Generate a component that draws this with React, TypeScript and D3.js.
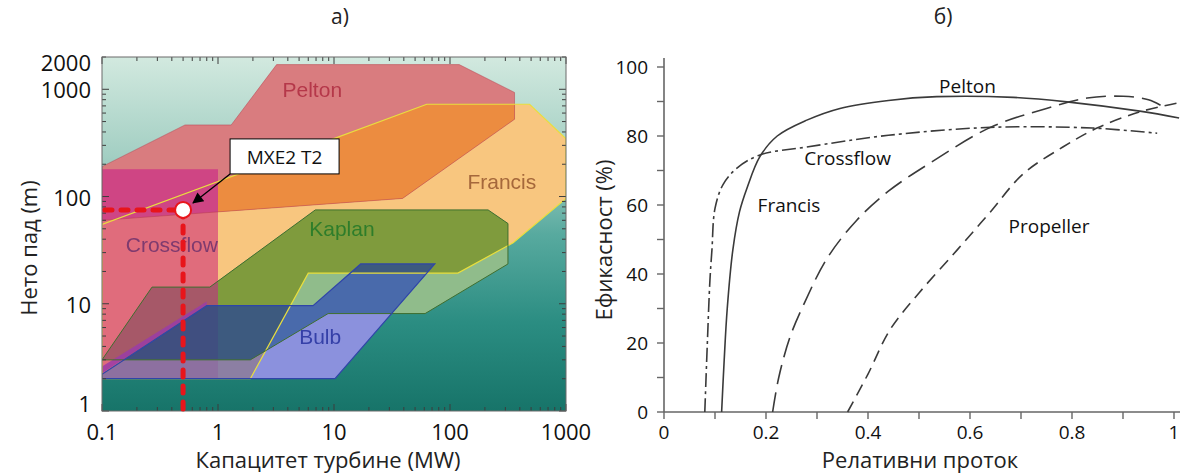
import React from 'react';
import * as d3 from 'd3';

const W = 1180;
const H = 474;

type Pt = [number, number];

// Panel а): turbine application ranges as [capacity MW, net head m]
const peltonRange: Pt[] = [[0.1, 60], [0.1, 190], [0.52, 465], [1.3, 465], [3.2, 1700], [120, 1700], [360, 935], [360, 525], [39, 96]];
const francisRange: Pt[] = [[0.1, 2], [0.1, 55], [63, 725], [485, 725], [1000, 345], [1000, 96], [350, 37], [117, 19.3], [6, 19.3], [1.9, 2]];
const kaplanRange: Pt[] = [[0.1, 3.0], [0.27, 14.3], [0.85, 14.3], [6.9, 75], [213, 75], [316, 56], [316, 23.5], [61, 8.1], [8.9, 8.1], [1.9, 3.0]];
const crossflowRange: Pt[] = [[0.1, 2], [0.1, 180], [1, 180], [1, 2]];
const bulbRange: Pt[] = [[0.1, 2.0], [10.2, 2.0], [74, 23.5], [17, 23.5], [6.6, 9.6], [0.8, 9.6], [0.1, 2.2]];
const bulbEdge: Pt[] = [[0.1, 2.25], [0.8, 9.8], [0.8, 10.5], [0.1, 2.6]];

const regionLabels = ['Pelton', 'Francis', 'Kaplan', 'Crossflow', 'Bulb'];
const regionLabelAt: Pt[] = [[6.5, 1000], [280, 138], [11.7, 50], [0.4, 36], [7.6, 5.0]];
const regionLabelColors = ['#b5384a', '#a5673a', '#2f7d2c', '#7e3a6e', '#3540a8'];

const markerCapacity = 0.5;
const markerHead = 75;
const markerName = 'MXE2 T2';

const capacityTicks = [0.1, 1, 10, 100, 1000];
const headTicks = [1, 10, 100, 1000, 2000];

// Panel б): efficiency curves as [relative flow, efficiency %]
const peltonEff: Pt[] = [[0.113, 0], [0.118, 15], [0.124, 30], [0.135, 47], [0.148, 58], [0.163, 65], [0.188, 74], [0.222, 80], [0.28, 84.6], [0.345, 88], [0.44, 90.3], [0.535, 91.4], [0.685, 91.2], [0.79, 89.9], [0.933, 87.2], [1.01, 85.2]];
const crossflowEff: Pt[] = [[0.08, 0], [0.085, 20], [0.09, 38], [0.094, 47], [0.1, 59], [0.116, 66], [0.143, 70.7], [0.188, 74.5], [0.28, 76.8], [0.44, 80.2], [0.64, 82.5], [0.84, 82.3], [0.967, 80.8]];
const francisEff: Pt[] = [[0.213, 0], [0.225, 10], [0.247, 21.7], [0.275, 31.5], [0.32, 44.6], [0.378, 55.6], [0.44, 64], [0.522, 72.2], [0.64, 82.5], [0.75, 88], [0.83, 91], [0.9, 91.5], [0.95, 90.5], [0.985, 88]];
const propellerEff: Pt[] = [[0.36, 0], [0.4, 11], [0.443, 23.8], [0.5, 34.5], [0.575, 47], [0.64, 58], [0.704, 69], [0.782, 76.8], [0.849, 82.3], [0.933, 87], [1.005, 89.5]];

const curveNames = ['Pelton', 'Crossflow', 'Francis', 'Propeller'];
const curveLabelAt: Pt[] = [[0.595, 94.5], [0.36, 73.5], [0.245, 60], [0.755, 54]];

const flowTicks = [0, 0.2, 0.4, 0.6, 0.8, 1];
const flowMinorTicks = d3.range(0, 1.001, 0.1);
const effTicks = [0, 20, 40, 60, 80, 100];
const effMinorTicks = d3.range(0, 101, 10);

// scales
const xL = d3.scaleLog().domain([0.1, 1000]).range([102, 566]);
const yL = d3.scaleLog().domain([1, 2000]).range([411, 57]);
const xR = d3.scaleLinear().domain([0, 1]).range([664, 1174]);
const yR = d3.scaleLinear().domain([0, 100]).range([412, 67]);

const polyLine = d3.line<Pt>().x(d => xL(d[0])).y(d => yL(d[1]));
const poly = (pts: Pt[]) => (polyLine(pts) || '') + 'Z';
const effLine = d3.line<Pt>().x(d => xR(d[0])).y(d => yR(d[1])).curve(d3.curveCatmullRom.alpha(0.5));

const shapes: Record<string, string> = {
  pelton: poly(peltonRange),
  francis: poly(francisRange),
  kaplan: poly(kaplanRange),
  crossflow: poly(crossflowRange),
  bulb: poly(bulbRange),
};

// painting order: shape, shapes it is intersected with, fill
const layers: [string, string[], string][] = [
  ['francis', [], '#f8c67f'],
  ['pelton', [], '#d97b7f'],
  ['pelton', ['francis'], '#ec8c40'],
  ['kaplan', [], '#90bc8b'],
  ['kaplan', ['francis'], '#7f9b3c'],
  ['crossflow', [], '#e06c7c'],
  ['crossflow', ['pelton'], '#cf4484'],
  ['crossflow', ['kaplan'], '#a65967'],
  ['bulb', [], '#8b91dd'],
  ['bulb', ['francis'], '#8c7fa3'],
  ['bulb', ['kaplan'], '#4a6bab'],
  ['bulb', ['kaplan', 'francis'], '#3e5a7f'],
  ['bulb', ['crossflow'], '#8d70a0'],
  ['bulb', ['crossflow', 'kaplan'], '#3f5080'],
];

const outlines: [string, string, number, number][] = [
  ['pelton', '#b8404c', 0.9, 0.55],
  ['francis', '#e9df3e', 1.2, 1],
  ['kaplan', '#3f6e2f', 1, 1],
  ['bulb', '#2f45a8', 1.2, 1],
];

function logMinor(lo: number, hi: number) {
  const out: number[] = [];
  for (let e = Math.floor(Math.log10(lo)); e <= Math.ceil(Math.log10(hi)); e++) {
    for (let m = 1; m < 10; m++) {
      const v = m * Math.pow(10, e);
      if (v >= lo * 0.999 && v <= hi * 1.001) out.push(v);
    }
  }
  return out;
}

const isDecade = (v: number) => Math.abs(Math.log10(v) - Math.round(Math.log10(v))) < 1e-6;

const FONT = "'Open Sans', 'Noto Sans', sans-serif";
const ARIAL = "'Liberation Sans', Arial, sans-serif";

function PanelA() {
  const [x0, x1] = xL.range();
  const [y0, y1] = [yL.range()[1], yL.range()[0]];
  const mx = xL(markerCapacity);
  const my = yL(markerHead);
  const xMinor = logMinor(0.1, 1000);
  const yMinor = logMinor(1, 2000);
  const tickCol = '#3d3d3d';

  return (
    <g>
      <defs>
        <linearGradient id="bgGrad" x1="0" y1="0" x2="0" y2="1">
          <stop offset="0%" stopColor="#d2e9df" />
          <stop offset="28%" stopColor="#a3cfc3" />
          <stop offset="50%" stopColor="#58aa9f" />
          <stop offset="75%" stopColor="#2b8d82" />
          <stop offset="100%" stopColor="#177469" />
        </linearGradient>
        <clipPath id="cp-plot">
          <rect x={x0} y={y0} width={x1 - x0} height={y1 - y0} />
        </clipPath>
        {Object.keys(shapes).map(k => (
          <clipPath id={`cp-${k}`} key={k}>
            <path d={shapes[k]} />
          </clipPath>
        ))}
        <filter id="soft" x="-5%" y="-5%" width="110%" height="110%">
          <feGaussianBlur stdDeviation="0.7" />
        </filter>
        <marker id="arrowHead" viewBox="0 0 10 10" refX="9" refY="5" markerWidth="14" markerHeight="11" markerUnits="userSpaceOnUse" orient="auto">
          <path d="M0,0 L10,5 L0,10 Z" fill="#000" />
        </marker>
      </defs>

      <rect x={x0} y={y0} width={x1 - x0} height={y1 - y0} fill="url(#bgGrad)" />

      <g clipPath="url(#cp-plot)" filter="url(#soft)">
        {layers.map(([shape, clips, fill], i) => {
          let el: React.ReactNode = <path d={shapes[shape]} fill={fill} />;
          clips.forEach(c => {
            el = <g clipPath={`url(#cp-${c})`}>{el}</g>;
          });
          return <g key={i}>{el}</g>;
        })}
        <path d={poly(bulbEdge)} fill="#9a3ca8" opacity={0.85} />
        {outlines.map(([shape, col, w, op]) => (
          <path key={shape} d={shapes[shape]} fill="none" stroke={col} strokeWidth={w} strokeOpacity={op} />
        ))}
        {regionLabels.map((t, i) => (
          <text key={t} x={xL(regionLabelAt[i][0])} y={yL(regionLabelAt[i][1])} textAnchor="middle" dominantBaseline="central"
            fontFamily={ARIAL} fontSize={21} fill={regionLabelColors[i]}>{t}</text>
        ))}
      </g>

      {/* inside ticks on all four sides */}
      <g stroke={tickCol} strokeWidth={1}>
        {xMinor.map(v => {
          const L = isDecade(v) ? 7 : 4;
          const x = xL(v);
          return (
            <g key={'x' + v}>
              <line x1={x} x2={x} y1={y1} y2={y1 - L} />
              <line x1={x} x2={x} y1={y0} y2={y0 + L} />
            </g>
          );
        })}
        {yMinor.map(v => {
          const L = isDecade(v) ? 7 : 4;
          const y = yL(v);
          return (
            <g key={'y' + v}>
              <line x1={x0} x2={x0 + L} y1={y} y2={y} />
              <line x1={x1} x2={x1 - L} y1={y} y2={y} />
            </g>
          );
        })}
      </g>
      <rect x={x0} y={y0} width={x1 - x0} height={y1 - y0} fill="none" stroke="#6a6a6a" strokeWidth={1} />

      {/* highlighted operating point */}
      <g stroke="#e8151b" strokeWidth={5} strokeDasharray="7,9" strokeLinecap="round" fill="none">
        <line x1={x0 + 3} x2={mx} y1={my} y2={my} />
        <line x1={mx} x2={mx} y1={my} y2={y1 - 2} />
      </g>
      <circle cx={mx} cy={my} r={8} fill="#fff" stroke="#e8151b" strokeWidth={2} />
      <line x1={mx + 47} y1={my - 36} x2={mx + 10} y2={my - 7} stroke="#000" strokeWidth={1.3} markerEnd="url(#arrowHead)" />
      <rect x={mx + 47} y={my - 71} width={109} height={35} fill="#fff" stroke="#000" strokeWidth={1} />
      <text x={mx + 101.5} y={my - 53} textAnchor="middle" dominantBaseline="central" fontFamily={FONT} fontSize={19} fill="#111">{markerName}</text>

      {/* axis labels */}
      {headTicks.map(v => (
        <text key={'hl' + v} x={91} y={Math.min(Math.max(yL(v), 62), 403)} textAnchor="end" dominantBaseline="central"
          fontFamily={FONT} fontSize={22} fill="#111">{v}</text>
      ))}
      {capacityTicks.map(v => (
        <text key={'cl' + v} x={xL(v)} y={431} textAnchor="middle" dominantBaseline="central"
          fontFamily={FONT} fontSize={22} fill="#111">{String(v)}</text>
      ))}
      <text x={28} y={248} transform="rotate(-90 28 248)" textAnchor="middle" dominantBaseline="central"
        fontFamily={FONT} fontSize={22} fill="#222">Нето пад (m)</text>
      <text x={328} y={459} textAnchor="middle" dominantBaseline="central" fontFamily={FONT} fontSize={22} fill="#222">Капацитет турбине (MW)</text>
      <text x={340} y={16} textAnchor="middle" dominantBaseline="central" fontFamily={FONT} fontSize={21} fill="#222">а)</text>
    </g>
  );
}

function PanelB() {
  const axisCol = '#666';
  const curveCol = '#3a3a3a';
  const series: [Pt[], string | undefined][] = [
    [peltonEff, undefined],
    [crossflowEff, '14,4,3,4'],
    [francisEff, '20,8'],
    [propellerEff, '12,7'],
  ];
  return (
    <g>
      <line x1={xR(0)} x2={xR(0)} y1={yR(0)} y2={yR(102.6)} stroke={axisCol} strokeWidth={1.6} />
      <line x1={xR(0)} x2={W} y1={yR(0)} y2={yR(0)} stroke={axisCol} strokeWidth={1.6} />
      {effMinorTicks.map(v => (
        <line key={'et' + v} x1={xR(0) - 7} x2={xR(0)} y1={yR(v)} y2={yR(v)} stroke={axisCol} strokeWidth={1.4} />
      ))}
      {flowMinorTicks.map(v => (
        <line key={'ft' + v} x1={xR(v)} x2={xR(v)} y1={yR(0)} y2={yR(0) + 7} stroke={axisCol} strokeWidth={1.4} />
      ))}
      {effTicks.map(v => (
        <text key={'el' + v} x={648} y={yR(v)} textAnchor="end" dominantBaseline="central" fontFamily={FONT} fontSize={19} fill="#111">{v}</text>
      ))}
      {flowTicks.map(v => (
        <text key={'fl' + v} x={xR(v)} y={432} textAnchor="middle" dominantBaseline="central" fontFamily={FONT} fontSize={19} fill="#111">{String(v)}</text>
      ))}
      {series.map(([pts, dash], i) => (
        <path key={i} d={effLine(pts) || ''} fill="none" stroke={curveCol} strokeWidth={1.6} strokeDasharray={dash} />
      ))}
      {curveNames.map((t, i) => (
        <text key={t} x={xR(curveLabelAt[i][0])} y={yR(curveLabelAt[i][1])} textAnchor="middle" dominantBaseline="central"
          fontFamily={FONT} fontSize={19} fill="#111">{t}</text>
      ))}
      <text x={603} y={240} transform="rotate(-90 603 240)" textAnchor="middle" dominantBaseline="central"
        fontFamily={FONT} fontSize={22} fill="#222">Ефикасност (%)</text>
      <text x={920} y={459} textAnchor="middle" dominantBaseline="central" fontFamily={FONT} fontSize={22} fill="#222">Релативни проток</text>
      <text x={943} y={16} textAnchor="middle" dominantBaseline="central" fontFamily={FONT} fontSize={21} fill="#222">б)</text>
    </g>
  );
}

export default function App() {
  return (
    <svg width={W} height={H} viewBox={`0 0 ${W} ${H}`} style={{ position: 'absolute', left: 0, top: 0, background: '#fff' }}>
      <rect width={W} height={H} fill="#fff" />
      <PanelA />
      <PanelB />
    </svg>
  );
}
